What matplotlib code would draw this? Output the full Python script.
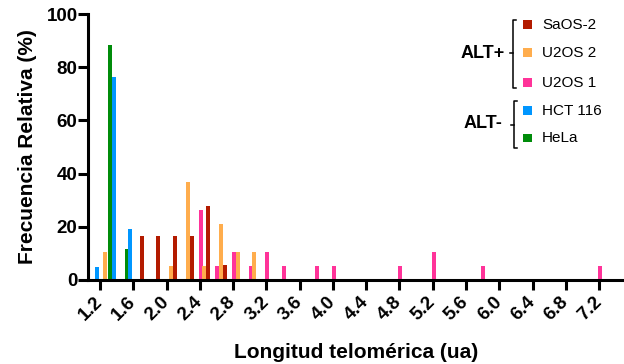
import matplotlib
matplotlib.use("Agg")
import matplotlib.pyplot as plt
from matplotlib.lines import Line2D
from matplotlib.patches import Rectangle

plt.rcParams['font.family'] = ['Liberation Sans', 'DejaVu Sans']

# histogram bins (telomere length, ua)
bins = [round(1.2 + 0.2 * i, 1) for i in range(31)]

# relative frequency (%) per cell line, only non-empty bins listed
hela = {1.4: 88.2, 1.6: 11.8}
hct116 = {1.2: 4.8, 1.4: 76.2, 1.6: 19.0}
u2os1 = {2.4: 26.3, 2.6: 5.3, 2.8: 10.5, 3.0: 5.3, 3.2: 10.5, 3.4: 5.3,
         3.8: 5.3, 4.0: 5.3, 4.8: 5.3, 5.2: 10.5, 5.8: 5.3, 7.2: 5.3}
u2os2 = {1.2: 10.5, 2.0: 5.3, 2.2: 36.8, 2.4: 5.3, 2.6: 21.1, 2.8: 10.5, 3.0: 10.5}
saos2 = {1.6: 16.7, 1.8: 16.7, 2.0: 16.7, 2.2: 16.7, 2.4: 27.8, 2.6: 5.6}

xticks = [1.2, 1.6, 2.0, 2.4, 2.8, 3.2, 3.6, 4.0, 4.4, 4.8, 5.2, 5.6, 6.0, 6.4, 6.8, 7.2]
yticks = [0, 20, 40, 60, 80, 100]

series = [
    ("HeLa", hela, "#008C0A", -0.08),
    ("HCT 116", hct116, "#0096FF", -0.035),
    ("U2OS 1", u2os1, "#FF3399", 0.01),
    ("U2OS 2", u2os2, "#FFAD4D", 0.055),
    ("SaOS-2", saos2, "#B31B00", 0.10),
]

W, H = 624, 364
fig = plt.figure(figsize=(W / 100, H / 100), dpi=100)
ax = fig.add_axes([88 / W, 1 - 280 / H, 1 - 88 / W, (280 - 14) / H])

for name, data, color, off in series:
    vals = [data.get(b, 0) for b in bins]
    ax.bar([b + off for b in bins], vals, width=0.048, color=color, linewidth=0)

ax.set_xlim(1.055, 7.5)
ax.set_ylim(0, 100)
for s in ["top", "right"]:
    ax.spines[s].set_visible(False)
for s in ["left", "bottom"]:
    ax.spines[s].set_linewidth(2.2)
ax.tick_params(width=2.2, length=7)
ax.tick_params(axis="x", pad=7)
ax.tick_params(axis="y", pad=0.5)

ax.set_xticks(xticks)
ax.set_xticklabels([f"{t:.1f}" for t in xticks], rotation=45, ha="right",
                   va="center", rotation_mode="anchor", fontsize=13.5, fontweight="bold")
ax.set_yticks(yticks)
ax.set_yticklabels([str(t) for t in yticks], fontsize=13.5, fontweight="bold")

ax.set_xlabel("Longitud telomérica (ua)", fontsize=15, fontweight="bold", labelpad=14)
ax.set_ylabel("Frecuencia Relativa (%)", fontsize=15, fontweight="bold")
ax.yaxis.set_label_coords(-0.095, 0.5)


# grouped legend with brackets, positions in pixels
def px(x, y):
    return x / W, 1 - y / H


def bracket(x, y0, y1, ym):
    pts = [(x + 3, y0), (x, y0), (x, y1), (x + 3, y1)]
    xs, ys = zip(*[px(a, b) for a, b in pts])
    fig.add_artist(Line2D(xs, ys, color="black", lw=1.1, transform=fig.transFigure))
    xs, ys = zip(px(x - 3, ym), px(x, ym))
    fig.add_artist(Line2D(xs, ys, color="black", lw=1.1, transform=fig.transFigure))


legend_order = [("SaOS-2", "#B31B00", 24.8), ("U2OS 2", "#FFAD4D", 53),
                ("U2OS 1", "#FF3399", 82.8), ("HCT 116", "#0096FF", 111),
                ("HeLa", "#008C0A", 138.5)]
for label, color, yc in legend_order:
    x0, y0 = px(523, yc + 4)
    fig.add_artist(Rectangle((x0, y0), 8.5 / W, 8.5 / H, color=color,
                             transform=fig.transFigure, lw=0))
    tx, ty = px(542, yc)
    fig.text(tx, ty, label, fontsize=11, va="center", ha="left")

bracket(513, 19.5, 88, 53)
bracket(514, 101, 148, 124.6)
tx, ty = px(505, 54)
fig.text(tx, ty, "ALT+", fontsize=13, fontweight="bold", ha="right", va="center")
tx, ty = px(502, 124)
fig.text(tx, ty, "ALT-", fontsize=13, fontweight="bold", ha="right", va="center")

fig.savefig("out.png", dpi=100)
